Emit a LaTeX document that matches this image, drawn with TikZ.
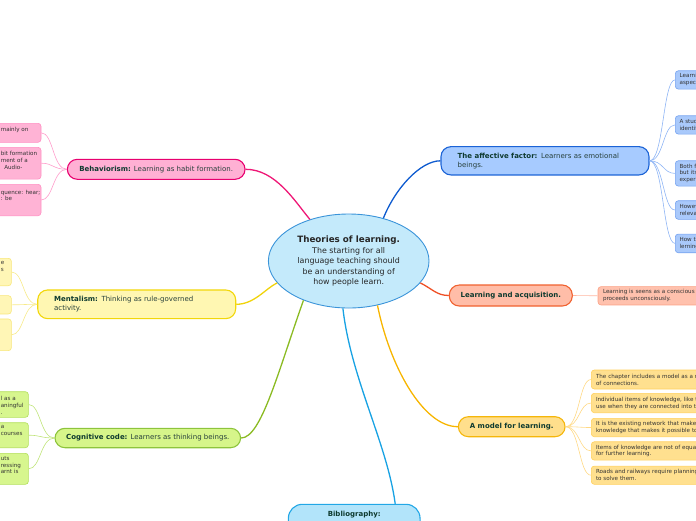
\documentclass[tikz,border=0pt]{standalone}
\usepackage{fontspec}
\setmainfont{DejaVu Sans}
\usetikzlibrary{shapes.geometric,calc}
\definecolor{ctrF}{HTML}{C4EAFB}\definecolor{ctrD}{HTML}{3B94D9}
\definecolor{pinkF}{HTML}{FFB0D4}\definecolor{pinkD}{HTML}{E8006F}\definecolor{pinkLF}{HTML}{FFB3D5}\definecolor{pinkLD}{HTML}{FF8FC3}\definecolor{pinkL}{HTML}{FF9CCB}\definecolor{pinkM}{HTML}{EE1776}
\definecolor{yelF}{HTML}{FFF7B2}\definecolor{yelD}{HTML}{F2D70A}\definecolor{yelLF}{HTML}{FFF6B6}\definecolor{yelLD}{HTML}{F7E67A}\definecolor{yelL}{HTML}{F7EA8A}\definecolor{yelM}{HTML}{F0D30A}
\definecolor{grnF}{HTML}{D6F58A}\definecolor{grnD}{HTML}{8DC43C}\definecolor{grnLF}{HTML}{D7F68E}\definecolor{grnLD}{HTML}{B3DF5A}\definecolor{grnL}{HTML}{C0E47A}\definecolor{grnM}{HTML}{8BBB23}
\definecolor{bluF}{HTML}{A7CBFF}\definecolor{bluD}{HTML}{1B63D6}\definecolor{bluLF}{HTML}{A9C9FB}\definecolor{bluLD}{HTML}{76A3F0}\definecolor{bluL}{HTML}{8FB5F5}\definecolor{bluM}{HTML}{0E5BCF}
\definecolor{salF}{HTML}{FFBDA8}\definecolor{salD}{HTML}{F0612F}\definecolor{salLF}{HTML}{FFC1AD}\definecolor{salLD}{HTML}{FBA185}\definecolor{salL}{HTML}{FFB59F}\definecolor{salM}{HTML}{EF5026}
\definecolor{orgF}{HTML}{FFDF8C}\definecolor{orgD}{HTML}{F5B60A}\definecolor{orgLF}{HTML}{FFE08F}\definecolor{orgLD}{HTML}{FFD05C}\definecolor{orgL}{HTML}{FFD985}\definecolor{orgM}{HTML}{F7B500}
\definecolor{bibF}{HTML}{B2E4FA}\definecolor{bibD}{HTML}{22A7E6}\definecolor{bibM}{HTML}{18A2E3}
\definecolor{boldtxt}{HTML}{0E3A2F}\definecolor{regtxt}{HTML}{27403B}\definecolor{leaftxt}{HTML}{333333}
\newcommand{\mainfs}{\fontsize{7}{8.8}\selectfont}
\newcommand{\leaffs}{\fontsize{5.6}{6.9}\selectfont}
\newcommand{\bt}[1]{\textbf{\color{boldtxt}#1}}
\tikzset{
  mainnode/.style={draw, line width=1.1pt, rounded corners=10pt, inner sep=0pt, font=\mainfs, text=regtxt},
  leafbox/.style={draw, line width=0.6pt, rounded corners=3pt, inner sep=0pt},
  leaftext/.style={font=\leaffs, text=leaftxt, align=left, inner sep=0pt, anchor=north west},
  rleaf/.style={leafbox, font=\leaffs, text=leaftxt, align=left, anchor=west, text width=150pt, inner xsep=4.3pt, inner ysep=0pt},
  mainline/.style={line width=1.3pt},
  leafline/.style={line width=0.6pt}
}
\begin{document}
\begin{tikzpicture}[x=1pt,y=-1pt]
\useasboundingbox (0,0) rectangle (696,520);
\clip (0,0) rectangle (696,520);
% center
\node[ellipse, draw=ctrD, fill=ctrF, line width=0.9pt, minimum width=160.6pt, minimum height=94pt, inner sep=0pt, align=center, font=\fontsize{7.9}{10.5}\selectfont, text=black!85] (ctr) at (348.7,261)
 {{\fontsize{8.75}{10.5}\selectfont\bfseries Theories of learning.}\\The starting for all\\language teaching should\\be an understanding of\\how people learn.};
% main nodes
\node[mainnode, fill=pinkF, draw=pinkD, minimum width=177.7pt, minimum height=20pt] (beh) at (156.2,169.3) {\bt{Behaviorism:} Learning as habit formation.};
\node[mainnode, fill=yelF, draw=yelD, minimum width=198pt, minimum height=28.7pt, text width=165pt, align=left] (men) at (136.7,304.3) {\bt{Mentalism:} Thinking as rule-governed\\activity.};
\node[mainnode, fill=grnF, draw=grnD, minimum width=185.7pt, minimum height=19.4pt] (cog) at (147.8,438) {\bt{Cognitive code:} Learners as thinking beings.};
\node[mainnode, fill=bluF, draw=bluD, minimum width=208pt, minimum height=28.3pt, text width=174.6pt, align=left] (aff) at (545,160.8) {\bt{The affective factor:} Learners as emotional\\beings.};
\node[mainnode, fill=salF, draw=salD, minimum width=123pt, minimum height=21pt] (lac) at (510.8,295.5) {\bt{Learning and acquisition.}};
\node[mainnode, fill=orgF, draw=orgD, minimum width=106.7pt, minimum height=20pt] (mod) at (511.7,426.7) {\bt{A model for learning.}};
\node[mainnode, rounded corners=14pt, fill=bibF, draw=bibD, minimum width=131.7pt, text height=5pt, text depth=25pt, inner ysep=7.5pt, anchor=base] (bib) at (354.2,516.8) {\bt{Bibliography:}};
% main connectors
\draw[mainline, draw=pinkM] (ctr.133) .. controls +(-15,-18) and +(30,0) .. (beh.east);
\draw[mainline, draw=yelM] (ctr.197) .. controls +(-12,6) and +(18,0) .. (men.east);
\draw[mainline, draw=grnM] (ctr.221) .. controls +(-25,70) and +(20,0) .. (cog.east);
\draw[mainline, draw=bibM] (ctr.263) .. controls +(8,70) and +(-8,-60) .. ($(bib.north)+(41,0)$);
\draw[mainline, draw=bluM] (ctr.51) .. controls +(12,-30) and +(-20,0) .. (aff.west);
\draw[mainline, draw=salM] (ctr.343) .. controls +(12,6) and +(-12,0) .. (lac.west);
\draw[mainline, draw=orgM] (ctr.303) .. controls +(12,60) and +(-35,0) .. (mod.west);
% pink leaves
\node[leafbox, fill=pinkLF, draw=pinkLD, minimum width=80pt, minimum height=19pt, anchor=east] (pk1) at (41.3,132.8) {};
\node[leafbox, fill=pinkLF, draw=pinkLD, minimum width=80pt, minimum height=31.7pt, anchor=east] (pk2) at (41.3,163.2) {};
\node[leafbox, fill=pinkLF, draw=pinkLD, minimum width=80pt, minimum height=31.4pt, anchor=east] (pk3) at (41.3,200) {};
\node[leaftext] (pk1t) at (0.6,127.3) {mainly on};
\node[leaftext] (pk2t) at (0.6,151.3) {bit formation\\ment of a\\\ \ Audio-};
\node[leaftext] (pk3t) at (0.6,189.6) {quence: hear;\\: be};
\foreach \l in {pk1,pk2,pk3} \draw[leafline, draw=pinkL] (beh.west) .. controls +(-14,0) and +(12,0) .. (\l.east);
% yellow leaves
\node[leafbox, fill=yelLF, draw=yelLD, minimum width=60pt, minimum height=27.4pt, anchor=east] (ye1) at (11.7,272) {};
\node[leafbox, fill=yelLF, draw=yelLD, minimum width=60pt, minimum height=18.3pt, anchor=east] (ye2) at (11.7,304.8) {};
\node[leafbox, fill=yelLF, draw=yelLD, minimum width=60pt, minimum height=31.7pt, anchor=east] (ye3) at (11.7,334.8) {};
\node[leaftext] (ye1t) at (0.6,261.6) {e\\s};
\foreach \l in {ye1,ye2,ye3} \draw[leafline, draw=yelL] (men.west) .. controls +(-14,0) and +(12,0) .. (\l.east);
% green leaves
\node[leafbox, fill=grnLF, draw=grnLD, minimum width=70pt, minimum height=25.6pt, anchor=east] (gr1) at (28.7,404.5) {};
\node[leafbox, fill=grnLF, draw=grnLD, minimum width=70pt, minimum height=25pt, anchor=east] (gr2) at (28.7,435.2) {};
\node[leafbox, fill=grnLF, draw=grnLD, minimum width=70pt, minimum height=31pt, anchor=east] (gr3) at (28.7,468.8) {};
\node[leaftext] (gr1t) at (0.6,396.3) {l as a\\aningful\\.};
\node[leaftext] (gr2t) at (0.6,425.6) {a\\courses};
\node[leaftext] (gr3t) at (0.6,456) {uts\\ressing\\arnt is};
\foreach \l in {gr1,gr2,gr3} \draw[leafline, draw=grnL] (cog.west) .. controls +(-14,0) and +(12,0) .. (\l.east);
% blue leaves
\node[rleaf, fill=bluLF, draw=bluLD, minimum height=18.3pt] (bl1) at (675,79.9) {Learni\\aspect};
\node[rleaf, fill=bluLF, draw=bluLD, minimum height=18.3pt] (bl2) at (675,124.9) {A stud\\identif};
\node[rleaf, fill=bluLF, draw=bluLD, minimum height=25.3pt] (bl3) at (675,173.4) {Both f\\but its\\experi};
\node[rleaf, fill=bluLF, draw=bluLD, minimum height=18.6pt] (bl4) at (675,210) {Howev\\releva};
\node[rleaf, fill=bluLF, draw=bluLD, minimum height=18.7pt] (bl5) at (675,243.4) {How th\\lerning};
\foreach \l in {bl1,bl2,bl3,bl4,bl5} \draw[leafline, draw=bluL] (aff.east) .. controls +(14,0) and +(-12,0) .. (\l.west);
% salmon leaf
\node[rleaf, fill=salLF, draw=salLD, minimum height=18.3pt, inner xsep=5pt] (lacl) at (597.7,295.8) {Learning is seens as a conscious p\\proceeds unconsciously.};
\draw[leafline, draw=salL] (lac.east) -- (lacl.west);
% orange leaves
\node[rleaf, fill=orgLF, draw=orgLD, minimum height=19pt, inner xsep=4.7pt] (o1) at (591,379.5) {The chapter includes a model as a re\\of connections.};
\node[rleaf, fill=orgLF, draw=orgLD, minimum height=19.4pt, inner xsep=4.7pt] (o2) at (591,403) {Individual items of knowledge, like th\\use when they are connected into th};
\node[rleaf, fill=orgLF, draw=orgLD, minimum height=18.4pt, inner xsep=4.7pt] (o3) at (591,427.5) {It is the existing network that make\\knowledge that makes it possible to};
\node[rleaf, fill=orgLF, draw=orgLD, minimum height=18.3pt, inner xsep=4.7pt] (o4) at (591,450.9) {Items of knowledge are not of equal\\for further learning.};
\node[rleaf, fill=orgLF, draw=orgLD, minimum height=18.3pt, inner xsep=4.7pt] (o5) at (591,475.2) {Roads and railways require planning\\to solve them.};
\foreach \l in {o1,o2,o3,o4,o5} \draw[leafline, draw=orgL] (mod.east) .. controls +(14,0) and +(-12,0) .. (\l.west);
\end{tikzpicture}
\end{document}
